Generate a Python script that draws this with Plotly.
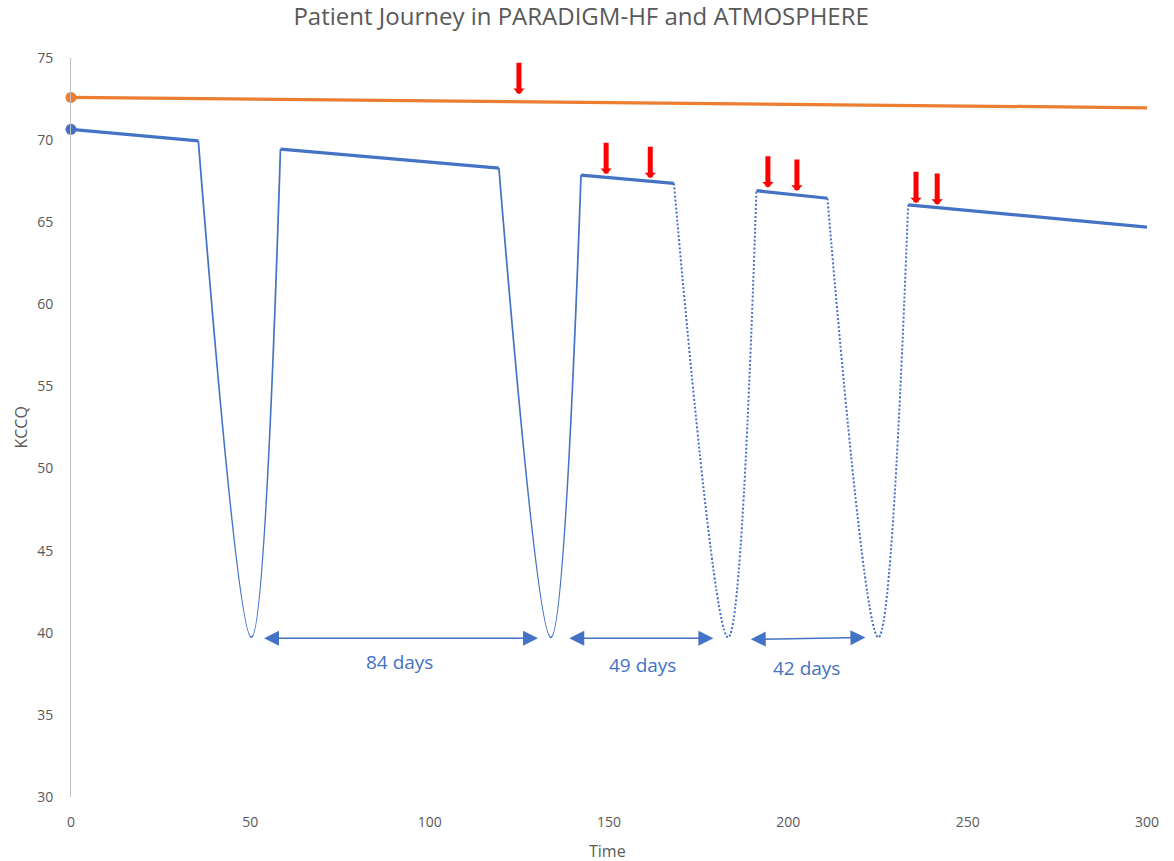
import plotly.graph_objects as go

# ---- data ----
orange_x = [0, 300]
orange_y = [72.6, 71.97]

seg_x = [[0, 35.5], [58.4, 119.3], [142.2, 168.1], [191.1, 210.9], [233.4, 300]]
seg_y = [[70.66, 69.95], [69.45, 68.3], [67.87, 67.37], [66.92, 66.46], [66.05, 64.7]]

valley_x = [[35.5, 50.3, 58.4], [119.3, 133.8, 142.2], [168.1, 183.2, 191.1], [210.9, 225.1, 233.4]]
valley_y = [[69.95, 39.72, 69.45], [68.3, 39.72, 67.87], [67.37, 39.72, 66.92], [66.46, 39.72, 66.05]]
valley_dotted = [False, False, True, True]

red_arrow_x = [124.9, 149.2, 161.5, 194.3, 202.4, 235.6, 241.5]
red_arrow_y = [72.79, 67.92, 67.67, 67.10, 66.90, 66.15, 66.05]

span_x0 = [53.4, 138.5, 189.1]
span_x1 = [130.2, 179.1, 221.5]
span_y0 = [39.66, 39.66, 39.6]
span_y1 = [39.66, 39.66, 39.72]
span_labels = ["84 days", "49 days", "42 days"]
label_x = [91.6, 159.2, 205.0]
label_y = [38.25, 38.05, 37.85]

x_ticks = [0, 50, 100, 150, 200, 250, 300]
y_ticks = [30, 35, 40, 45, 50, 55, 60, 65, 70, 75]

BLUE = "#4472C4"
ORANGE = "#ED7D31"
GRAY = "#595959"

fig = go.Figure()

fig.add_trace(go.Scatter(x=orange_x, y=orange_y, mode="lines",
                         line=dict(color=ORANGE, width=3.25), showlegend=False))
fig.add_trace(go.Scatter(x=[orange_x[0]], y=[orange_y[0]], mode="markers",
                         marker=dict(color=ORANGE, size=11), cliponaxis=False,
                         showlegend=False))

for xs, ys in zip(seg_x, seg_y):
    fig.add_trace(go.Scatter(x=xs, y=ys, mode="lines",
                             line=dict(color=BLUE, width=3.25), showlegend=False))

for xs, ys, dotted in zip(valley_x, valley_y, valley_dotted):
    fig.add_trace(go.Scatter(x=xs, y=ys, mode="lines",
                             line=dict(color=BLUE, width=2 if dotted else 1.75,
                                       shape="spline", smoothing=1.0,
                                       dash="2px,2px" if dotted else "solid"),
                             showlegend=False))

fig.add_trace(go.Scatter(x=[seg_x[0][0]], y=[seg_y[0][0]], mode="markers",
                         marker=dict(color=BLUE, size=11), cliponaxis=False,
                         showlegend=False))

annotations = []
for xa, ya in zip(red_arrow_x, red_arrow_y):
    annotations.append(dict(x=xa, y=ya, xref="x", yref="y", text="",
                            showarrow=True, ax=0, ay=-33,
                            arrowhead=1, arrowwidth=5, arrowsize=0.38,
                            arrowcolor="#FF0000", standoff=0))

for x0, x1, y0, y1 in zip(span_x0, span_x1, span_y0, span_y1):
    annotations.append(dict(x=x1, y=y1, ax=x0, ay=y0, xref="x", yref="y",
                            axref="x", ayref="y", text="", showarrow=True,
                            arrowside="end+start", arrowhead=2, startarrowhead=2,
                            arrowsize=2.0, startarrowsize=2.0, arrowwidth=1.5,
                            arrowcolor=BLUE))

for lx, ly, lt in zip(label_x, label_y, span_labels):
    annotations.append(dict(x=lx, y=ly, xref="x", yref="y", text=lt,
                            showarrow=False,
                            font=dict(family="Open Sans", size=19, color=BLUE)))

# axis titles (placed as paper-referenced text)
annotations.append(dict(text="Time", xref="paper", yref="paper",
                        x=(607 - 71) / (1147 - 71), y=-(851 - 797) / (797 - 58),
                        xanchor="center", yanchor="middle",
                        showarrow=False, font=dict(size=16, color=GRAY)))
annotations.append(dict(text="KCCQ", xref="paper", yref="paper",
                        x=-(71 - 20) / (1147 - 71), y=0.5, textangle=-90,
                        xanchor="center", yanchor="middle",
                        showarrow=False, font=dict(size=16, color=GRAY)))

fig.update_layout(
    width=1174, height=861,
    margin=dict(l=71, r=27, t=58, b=64, autoexpand=False),
    paper_bgcolor="white", plot_bgcolor="white",
    font=dict(family="Open Sans", color=GRAY, size=14),
    title=dict(text="Patient Journey in PARADIGM-HF and ATMOSPHERE",
               x=0.495, xref="container", xanchor="center",
               y=1 - 17 / 861, yref="container", yanchor="middle",
               font=dict(family="Open Sans", size=24, color=GRAY)),
    annotations=annotations,
    showlegend=False,
)

fig.update_xaxes(range=[0, 300], tickvals=x_ticks,
                 showgrid=False, zeroline=False, showline=False, ticks="",
                 ticklabelstandoff=15, automargin=False)
fig.update_yaxes(range=[30, 75], tickvals=y_ticks,
                 showgrid=False, zeroline=False, showline=True,
                 linecolor="#BFBFBF", linewidth=1, ticks="",
                 ticklabelstandoff=14, automargin=False)

fig.write_html("out.html")
